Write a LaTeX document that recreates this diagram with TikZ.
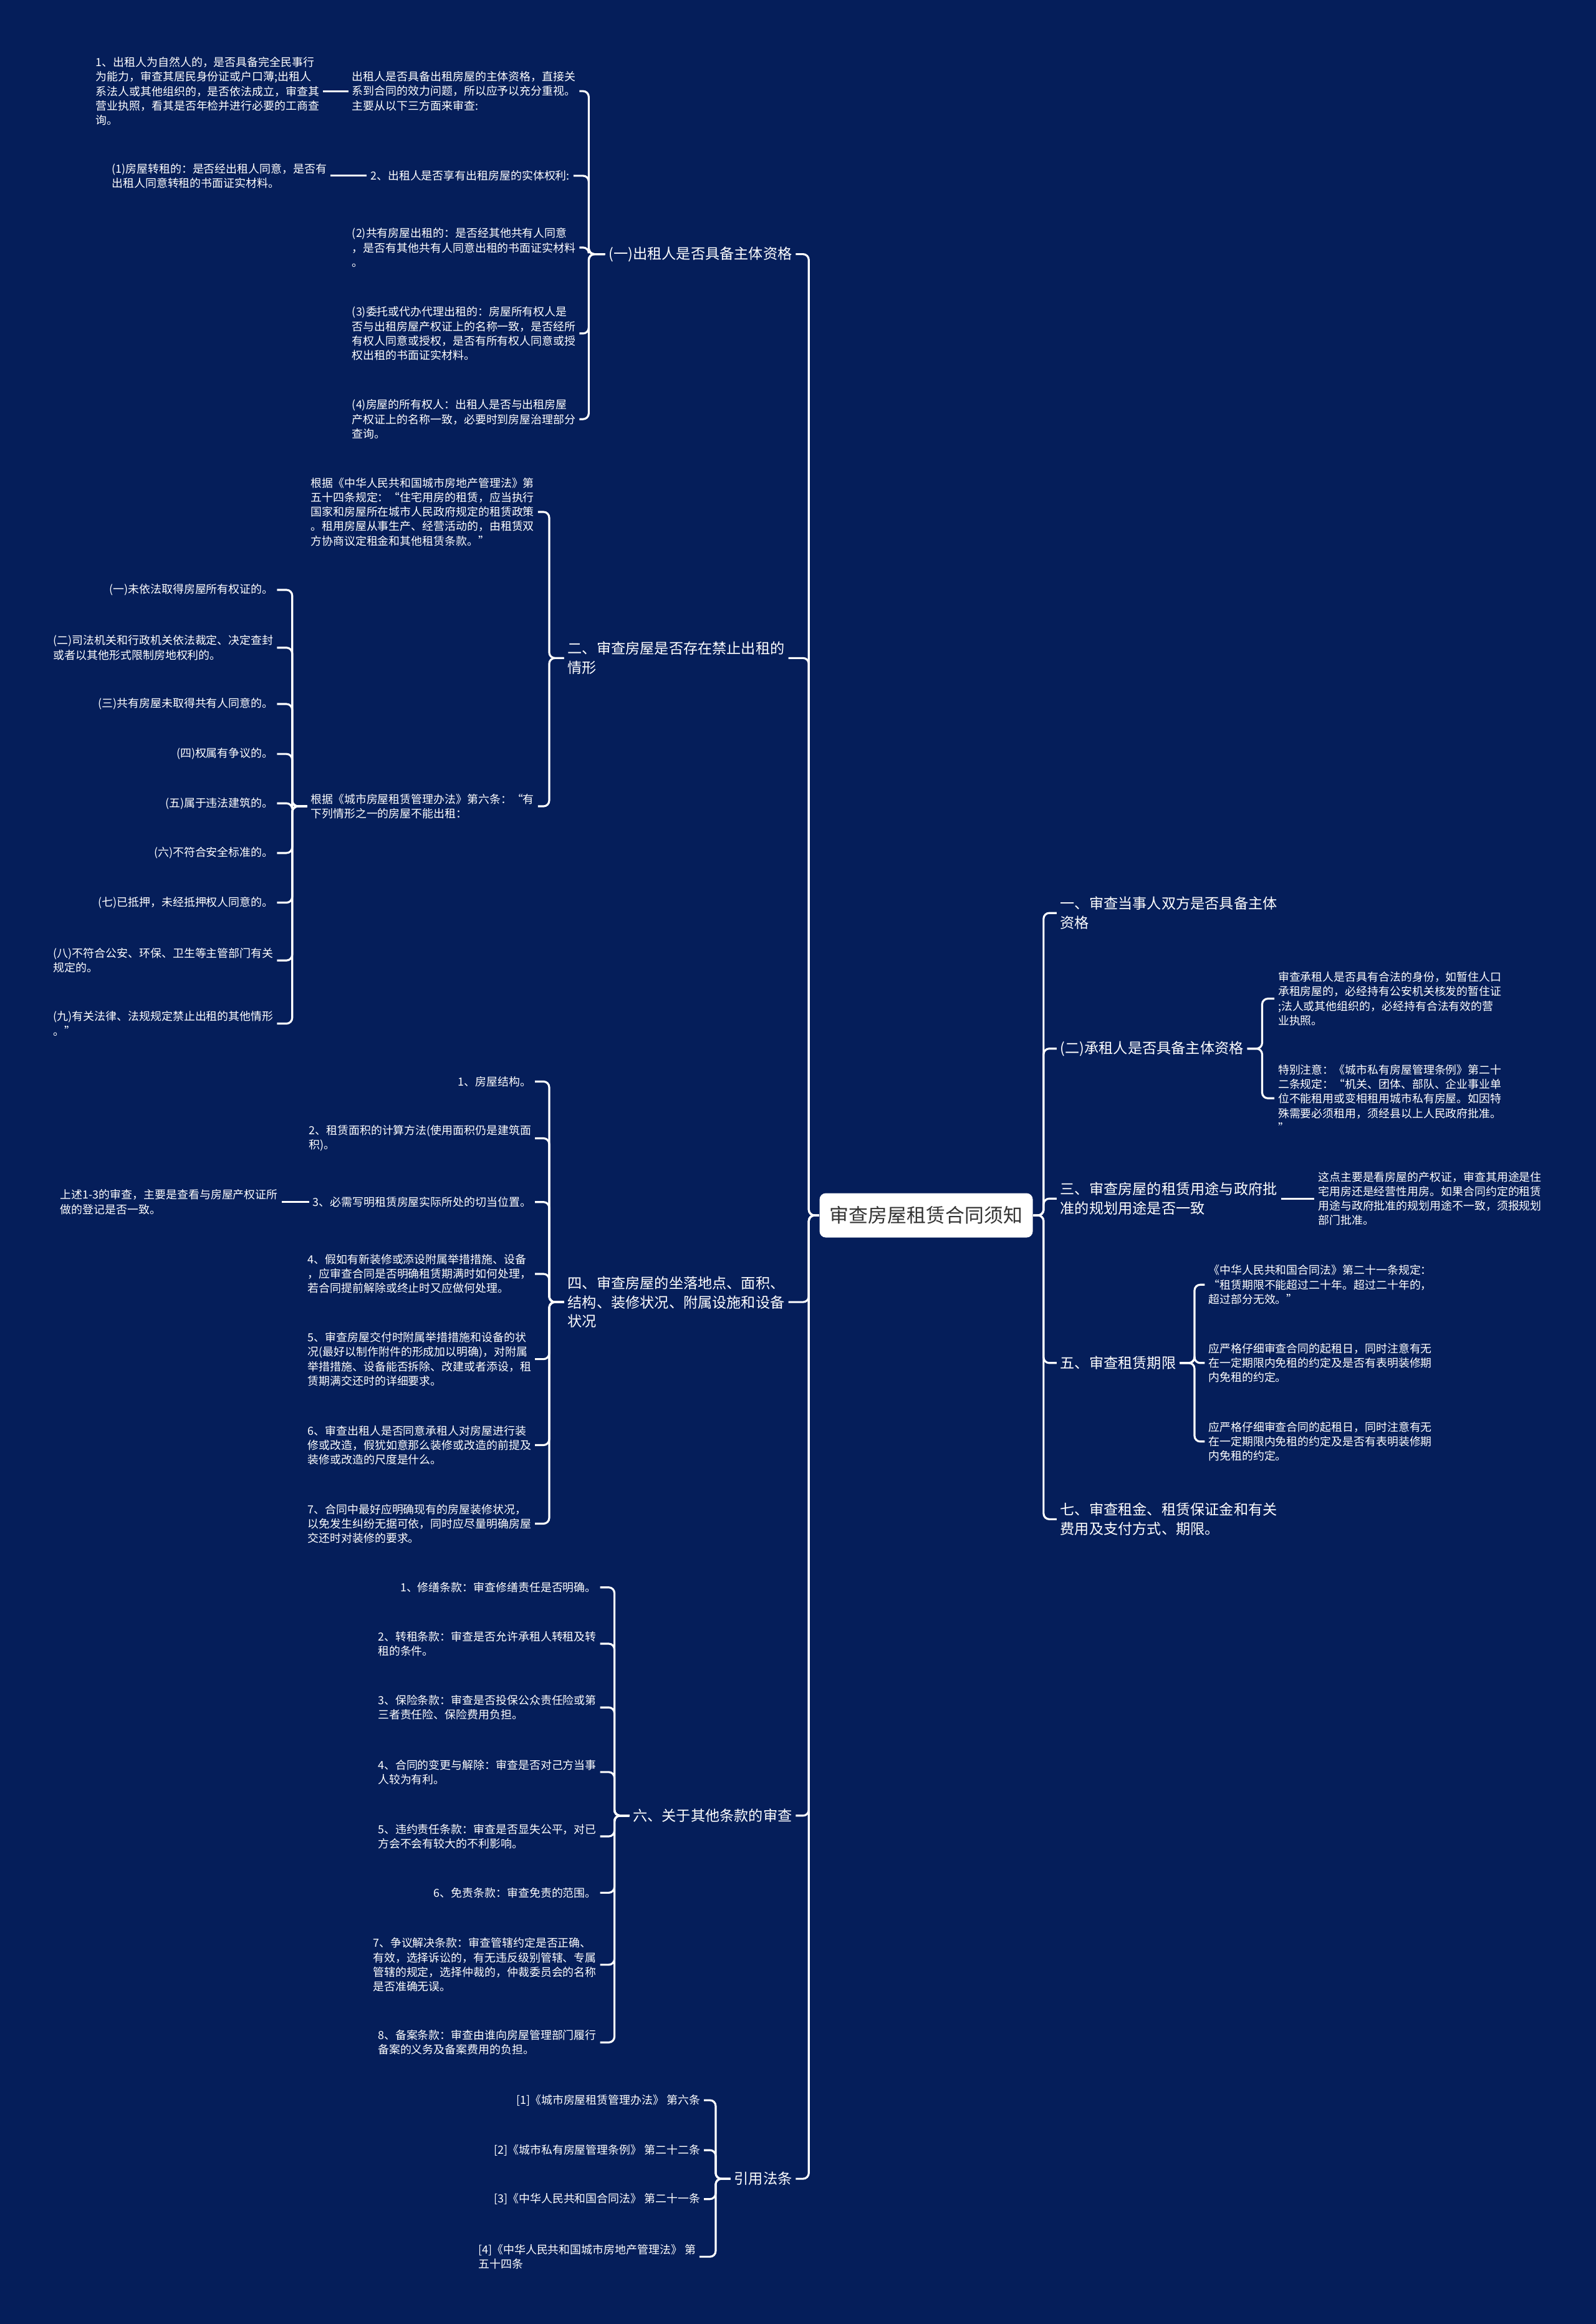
\documentclass[tikz,border=0pt]{standalone}
\usepackage{fontspec}
\setmainfont{Noto Sans CJK SC}
\definecolor{navybg}{RGB}{5,30,90}
\definecolor{rootink}{RGB}{51,51,51}

\begin{document}
\begin{tikzpicture}[x=0.02377cm, y=-0.02377cm,
    link/.style={white, line width=0.9pt, rounded corners=2.6pt},
    small/.style={text=white, align=left, inner sep=1.5pt, font=\fontsize{5.1}{6.6}\selectfont},
    big/.style={text=white, align=left, inner sep=1.5pt, font=\fontsize{6.6}{8.7}\selectfont},
    lsmall/.style={small, anchor=east}, rsmall/.style={small, anchor=west},
    lbig/.style={big, anchor=east}, rbig/.style={big, anchor=west},
    rootbox/.style={fill=white, text=rootink, rounded corners=2.8pt,
      minimum width=3.42cm, minimum height=0.71cm, font=\fontsize{8.8}{10}\selectfont}]
  \fill[navybg] (0, 0) rectangle (1077, 1568);

  \node[rootbox] (root) at (625, 820) {审查房屋租赁合同须知};

  \node[lbig] (l1) at (537, 171.5) {(一)出租人是否具备主体资格};
  \node[lbig] (l2) at (532, 444) {二、审查房屋是否存在禁止出租的\\情形};
  \node[lbig] (l3) at (532, 878.5) {四、审查房屋的坐落地点、面积、\\结构、装修状况、附属设施和设备\\状况};
  \node[lbig] (l4) at (537, 1225) {六、关于其他条款的审查};
  \node[lbig] (l5) at (537, 1470) {引用法条};

  \node[rbig] (r1) at (713, 616) {一、审查当事人双方是否具备主体\\资格};
  \node[rbig] (r2) at (713, 707.5) {(二)承租人是否具备主体资格};
  \node[rbig] (r3) at (713, 808.7) {三、审查房屋的租赁用途与政府批\\准的规划用途是否一致};
  \node[rbig] (r4) at (713, 919.6) {五、审查租赁期限};
  \node[rbig] (r5) at (713, 1025) {七、审查租金、租赁保证金和有关\\费用及支付方式、期限。};

  \node[lsmall] (l1a) at (391, 61.5) {出租人是否具备出租房屋的主体资格，直接关\\系到合同的效力问题，所以应予以充分重视。\\主要从以下三方面来审查:};
  \node[lsmall] (l1b) at (387, 118.6) {2、出租人是否享有出租房屋的实体权利:};
  \node[lsmall] (l1c) at (391, 167) {(2)共有房屋出租的：是否经其他共有人同意\\，是否有其他共有人同意出租的书面证实材料\\。};
  \node[lsmall] (l1d) at (391, 225) {(3)委托或代办代理出租的：房屋所有权人是\\否与出租房屋产权证上的名称一致，是否经所\\有权人同意或授权，是否有所有权人同意或授\\权出租的书面证实材料。};
  \node[lsmall] (l1e) at (391, 282.8) {(4)房屋的所有权人：出租人是否与出租房屋\\产权证上的名称一致，必要时到房屋治理部分\\查询。};
  \node[lsmall] (l1a1) at (218, 61.5) {1、出租人为自然人的，是否具备完全民事行\\为能力，审查其居民身份证或户口薄;出租人\\系法人或其他组织的，是否依法成立，审查其\\营业执照，看其是否年检并进行必要的工商查\\询。};
  \node[lsmall] (l1b1) at (223, 118.6) {(1)房屋转租的：是否经出租人同意，是否有\\出租人同意转租的书面证实材料。};

  \node[lsmall] (l2a) at (363, 345.4) {根据《中华人民共和国城市房地产管理法》第\\五十四条规定：“住宅用房的租赁，应当执行\\国家和房屋所在城市人民政府规定的租赁政策\\。租用房屋从事生产、经营活动的，由租赁双\\方协商议定租金和其他租赁条款。”};
  \node[lsmall] (l2b) at (363, 544) {根据《城市房屋租赁管理办法》第六条：“有\\下列情形之一的房屋不能出租：};
  \node[lsmall] (l2b1) at (187, 398) {(一)未依法取得房屋所有权证的。};
  \node[lsmall] (l2b2) at (187, 437) {(二)司法机关和行政机关依法裁定、决定查封\\或者以其他形式限制房地权利的。};
  \node[lsmall] (l2b3) at (187, 475) {(三)共有房屋未取得共有人同意的。};
  \node[lsmall] (l2b4) at (187, 508.7) {(四)权属有争议的。};
  \node[lsmall] (l2b5) at (187, 542) {(五)属于违法建筑的。};
  \node[lsmall] (l2b6) at (187, 575.5) {(六)不符合安全标准的。};
  \node[lsmall] (l2b7) at (187, 609) {(七)已抵押，未经抵押权人同意的。};
  \node[lsmall] (l2b8) at (187, 648) {(八)不符合公安、环保、卫生等主管部门有关\\规定的。};
  \node[lsmall] (l2b9) at (187, 690.6) {(九)有关法律、法规规定禁止出租的其他情形\\。”};

  \node[lsmall] (l3a) at (361, 729.7) {1、房屋结构。};
  \node[lsmall] (l3b) at (361, 768) {2、租赁面积的计算方法(使用面积仍是建筑面\\积)。};
  \node[lsmall] (l3c) at (361, 811) {3、必需写明租赁房屋实际所处的切当位置。};
  \node[lsmall] (l3d) at (361, 859.5) {4、假如有新装修或添设附属举措措施、设备\\，应审查合同是否明确租赁期满时如何处理，\\若合同提前解除或终止时又应做何处理。};
  \node[lsmall] (l3e) at (361, 917) {5、审查房屋交付时附属举措措施和设备的状\\况(最好以制作附件的形成加以明确)，对附属\\举措措施、设备能否拆除、改建或者添设，租\\赁期满交还时的详细要求。};
  \node[lsmall] (l3f) at (361, 975) {6、审查出租人是否同意承租人对房屋进行装\\修或改造，假犹如意那么装修或改造的前提及\\装修或改造的尺度是什么。};
  \node[lsmall] (l3g) at (361, 1028) {7、合同中最好应明确现有的房屋装修状况，\\以免发生纠纷无据可依，同时应尽量明确房屋\\交还时对装修的要求。};
  \node[lsmall] (l3c1) at (190, 811) {上述1-3的审查，主要是查看与房屋产权证所\\做的登记是否一致。};

  \node[lsmall] (l41) at (405, 1071) {1、修缮条款：审查修缮责任是否明确。};
  \node[lsmall] (l42) at (405, 1109) {2、转租条款：审查是否允许承租人转租及转\\租的条件。};
  \node[lsmall] (l43) at (405, 1152) {3、保险条款：审查是否投保公众责任险或第\\三者责任险、保险费用负担。};
  \node[lsmall] (l44) at (405, 1195.6) {4、合同的变更与解除：审查是否对己方当事\\人较为有利。};
  \node[lsmall] (l45) at (405, 1239) {5、违约责任条款：审查是否显失公平，对已\\方会不会有较大的不利影响。};
  \node[lsmall] (l46) at (405, 1277) {6、免责条款：审查免责的范围。};
  \node[lsmall] (l47) at (405, 1325.6) {7、争议解决条款：审查管辖约定是否正确、\\有效，选择诉讼的，有无违反级别管辖、专属\\管辖的规定，选择仲裁的，仲裁委员会的名称\\是否准确无误。};
  \node[lsmall] (l48) at (405, 1378) {8、备案条款：审查由谁向房屋管理部门履行\\备案的义务及备案费用的负担。};

  \node[lsmall] (l51) at (475, 1417) {[1]《城市房屋租赁管理办法》 第六条};
  \node[lsmall] (l52) at (475, 1450.7) {[2]《城市私有房屋管理条例》 第二十二条};
  \node[lsmall] (l53) at (475, 1483.7) {[3]《中华人民共和国合同法》 第二十一条};
  \node[lsmall] (l54) at (472, 1522.6) {[4]《中华人民共和国城市房地产管理法》 第\\五十四条};

  \node[rsmall] (r2a) at (860, 673.8) {审查承租人是否具有合法的身份，如暂住人口\\承租房屋的，必经持有公安机关核发的暂住证\\;法人或其他组织的，必经持有合法有效的营\\业执照。};
  \node[rsmall] (r2b) at (860, 741) {特别注意：《城市私有房屋管理条例》第二十\\二条规定：“机关、团体、部队、企业事业单\\位不能租用或变相租用城市私有房屋。如因特\\殊需要必须租用，须经县以上人民政府批准。\\”};
  \node[rsmall] (r3a) at (887, 808.7) {这点主要是看房屋的产权证，审查其用途是住\\宅用房还是经营性用房。如果合同约定的租赁\\用途与政府批准的规划用途不一致，须报规划\\部门批准。};
  \node[rsmall] (r4a) at (813, 866.8) {《中华人民共和国合同法》第二十一条规定：\\“租赁期限不能超过二十年。超过二十年的，\\超过部分无效。”};
  \node[rsmall] (r4b) at (813, 919.6) {应严格仔细审查合同的起租日，同时注意有无\\在一定期限内免租的约定及是否有表明装修期\\内免租的约定。};
  \node[rsmall] (r4c) at (813, 972.6) {应严格仔细审查合同的起租日，同时注意有无\\在一定期限内免租的约定及是否有表明装修期\\内免租的约定。};

  \foreach \c in {l1, l2, l3, l4, l5}
    \draw[link] (root.west) -- ++(-7, 0) |- (\c.east);
  \foreach \c in {r1, r2, r3, r4, r5}
    \draw[link] (root.east) -- ++(7, 0) |- (\c.west);
  \foreach \c in {l1a, l1b, l1c, l1d, l1e}
    \draw[link] (l1.west) -- ++(-11, 0) |- (\c.east);
  \foreach \c in {l2a, l2b}
    \draw[link] (l2.west) -- ++(-10, 0) |- (\c.east);
  \foreach \i in {1,...,9}
    \draw[link] (l2b.west) -- ++(-10, 0) |- (l2b\i.east);
  \foreach \i in {a, b, c, d, e, f, g}
    \draw[link] (l3.west) -- ++(-10, 0) |- (l3\i.east);
  \foreach \i in {1,...,8}
    \draw[link] (l4.west) -- ++(-10, 0) |- (l4\i.east);
  \foreach \i in {1,...,4}
    \draw[link] (l5.west) -- ++(-10, 0) |- (l5\i.east);
  \foreach \i in {a, b}
    \draw[link] (r2.east) -- ++(10, 0) |- (r2\i.west);
  \foreach \i in {a, b, c}
    \draw[link] (r4.east) -- ++(10, 0) |- (r4\i.west);
  \draw[link] (l1a.west) -- (l1a1.east);
  \draw[link] (l1b.west) -- (l1b1.east);
  \draw[link] (l3c.west) -- (l3c1.east);
  \draw[link] (r3.east) -- (r3a.west);
\end{tikzpicture}
\end{document}
